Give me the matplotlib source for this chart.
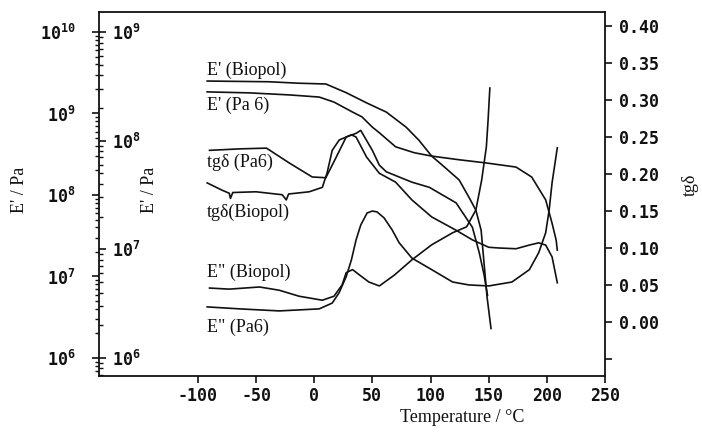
import matplotlib
matplotlib.use("Agg")
import numpy as np
import matplotlib.pyplot as plt
from matplotlib.ticker import LogLocator, NullFormatter

# storage modulus E' (Pa) vs temperature (degC)
t_e1_biopol = [-92, -39, -13, 10, 27.5, 45, 62, 79, 90, 101, 110, 124.6, 133, 139, 143.5, 146, 148.6, 152]
e1_biopol = [2.5e9, 2.45e9, 2.35e9, 2.3e9, 1.8e9, 1.35e9, 1.04e9, 6.8e8, 4.7e8, 3.0e8, 2.33e8, 1.53e8,
             9.4e7, 6.5e7, 3.7e7, 1.47e7, 5.6e6, 2.3e6]

t_e1_pa6 = [-92, -56, -21.5, 4.3, 17, 33, 41, 50, 56, 70, 86, 101, 125, 148, 173.5, 187, 199, 204.5, 208, 209]
e1_pa6 = [1.84e9, 1.79e9, 1.69e9, 1.59e9, 1.38e9, 1.04e9, 9.1e8, 6.8e8, 5.8e8, 3.9e8, 3.3e8, 3.0e8,
          2.7e8, 2.47e8, 2.2e8, 1.66e8, 8.7e7, 4.5e7, 2.8e7, 2.1e7]

# loss factor tg delta
t_tg_pa6 = [-90, -64, -41, -21.5, -1.7, 10, 19, 27.5, 32, 36, 45, 56, 70, 84, 101, 122, 136, 150, 159,
            173.5, 185, 193, 199, 204.5, 209]
tg_pa6 = [0.232, 0.234, 0.235, 0.215, 0.196, 0.195, 0.223, 0.250, 0.253, 0.250, 0.223, 0.201, 0.189,
          0.165, 0.142, 0.124, 0.111, 0.101, 0.100, 0.099, 0.104, 0.107, 0.104, 0.088, 0.053]

t_tg_biopol = [-92, -79, -73, -72, -70, -50, -27.5, -24, -22, -4.3, 7, 11, 15.5, 21.5, 27.5, 36, 40, 50,
               56, 62, 84, 99, 122, 136, 142, 146, 149]
tg_biopol = [0.188, 0.178, 0.174, 0.167, 0.175, 0.176, 0.172, 0.165, 0.173, 0.176, 0.182, 0.201, 0.232,
             0.246, 0.250, 0.255, 0.259, 0.232, 0.212, 0.203, 0.189, 0.182, 0.161, 0.128, 0.093, 0.064, 0.036]

# loss modulus E'' (Pa)
t_e2_biopol = [-90, -73, -47, -30, -13, 7, 17, 24, 27.5, 33, 39, 47, 56, 69, 84, 101, 119, 131, 139,
               144, 148, 149.5, 151]
e2_biopol = [4.4e6, 4.3e6, 4.5e6, 4.2e6, 3.7e6, 3.4e6, 3.7e6, 4.7e6, 6.1e6, 6.5e6, 5.8e6, 5.0e6, 4.6e6,
             5.8e6, 8.0e6, 1.1e7, 1.42e7, 1.61e7, 2.3e7, 4.35e7, 8.75e7, 1.55e8, 3.05e8]

t_e2_pa6 = [-92, -64, -30, 4.3, 15.5, 21.5, 27.5, 32, 36, 40, 45.5, 50, 54, 60, 67, 73, 84, 101, 119,
            133, 150, 170, 185, 193, 199, 202, 204.5, 209]
e2_pa6 = [2.95e6, 2.83e6, 2.71e6, 2.83e6, 3.2e6, 4.0e6, 5.6e6, 8.0e6, 1.22e7, 1.67e7, 2.16e7, 2.25e7,
          2.21e7, 1.95e7, 1.51e7, 1.15e7, 8.3e6, 6.5e6, 5.0e6, 4.7e6, 4.6e6, 5.0e6, 6.5e6, 9.3e6,
          1.42e7, 2.3e7, 4.1e7, 8.6e7]

x_ticks = [-100, -50, 0, 50, 100, 150, 200, 250]
outer_ticks = [1e6, 1e7, 1e8, 1e9, 1e10]
outer_labels = [r"$10^{6}$", r"$10^{7}$", r"$10^{8}$", r"$10^{9}$", r"$10^{10}$"]
inner_ticks = [1e6, 1e7, 1e8, 1e9]
inner_labels = [r"$10^{6}$", r"$10^{7}$", r"$10^{8}$", r"$10^{9}$"]
tg_ticks = [-0.05, 0.0, 0.05, 0.10, 0.15, 0.20, 0.25, 0.30, 0.35, 0.40]
tg_labels = ["", "0.00", "0.05", "0.10", "0.15", "0.20", "0.25", "0.30", "0.35", "0.40"]

plt.rcParams["mathtext.fontset"] = "custom"
plt.rcParams["mathtext.rm"] = "DejaVu Sans Mono:bold"
plt.rcParams["mathtext.it"] = "DejaVu Sans Mono:bold"
plt.rcParams["mathtext.bf"] = "DejaVu Sans Mono:bold"
plt.rcParams["axes.unicode_minus"] = False

W, H = 702, 432
INK = "#111111"
SERIF = "Liberation Serif"
TICKFONT = dict(family="DejaVu Sans Mono", weight="bold", size=12)


def px(x, y):
    return x / W, 1 - y / H


fig = plt.figure(figsize=(W / 100, H / 100), dpi=100)
left, right, top, bottom = 99, 605, 12, 376
rect = [left / W, 1 - bottom / H, (right - left) / W, (bottom - top) / H]

ax = fig.add_axes(rect)
ax_in = fig.add_axes(rect, sharex=ax, frameon=False)
ax_tg = fig.add_axes(rect, sharex=ax, frameon=False)
for a in (ax_in, ax_tg):
    a.patch.set_alpha(0)
    a.tick_params(axis="x", which="both", bottom=False, labelbottom=False)

for s in ax.spines.values():
    s.set_linewidth(1.3)
    s.set_color(INK)

ax.set_xlim(-185, 250)
ax.set_xticks(x_ticks, labels=[str(v) for v in x_ticks])
ax.tick_params(axis="x", direction="out", length=5, width=1.2, pad=3, colors=INK)

# outer log axis (E')
ax.set_yscale("log")
ax.set_ylim(10 ** 5.779, 10 ** 10.245)
ax.set_yticks(outer_ticks, labels=outer_labels)
ax.yaxis.set_minor_locator(LogLocator(base=10, subs=np.arange(2, 10), numticks=20))
ax.yaxis.set_minor_formatter(NullFormatter())
ax.tick_params(axis="y", which="major", direction="out", length=5, width=1.2, pad=12, colors=INK)
ax.tick_params(axis="y", which="minor", direction="out", length=3, width=1.0, colors=INK)
ax.tick_params(right=False, top=False)

# inner log axis (E'')
ax_in.set_yscale("log")
ax_in.set_ylim(10 ** 5.834, 10 ** 9.184)
ax_in.yaxis.tick_left()
ax_in.set_yticks(inner_ticks, labels=inner_labels)
ax_in.yaxis.set_minor_locator(LogLocator(base=10, subs=np.arange(2, 10), numticks=20))
ax_in.yaxis.set_minor_formatter(NullFormatter())
ax_in.tick_params(axis="y", which="major", direction="in", length=5, width=1.2, pad=-9, colors=INK)
ax_in.tick_params(axis="y", which="minor", direction="in", length=3, width=1.0, colors=INK)
for lbl in ax_in.get_yticklabels():
    lbl.set_horizontalalignment("left")

# right axis (tg delta)
ax_tg.set_ylim(-0.073, 0.419)
ax_tg.yaxis.tick_right()
ax_tg.set_yticks(tg_ticks, labels=tg_labels)
ax_tg.tick_params(axis="y", direction="out", length=5, width=1.2, pad=5, colors=INK)

for a in (ax, ax_in, ax_tg):
    for lbl in a.get_xticklabels() + a.get_yticklabels():
        lbl.set_fontproperties(matplotlib.font_manager.FontProperties(**TICKFONT))

lw = 1.2
ax.plot(t_e1_biopol, e1_biopol, color=INK, lw=lw)
ax.plot(t_e1_pa6, e1_pa6, color=INK, lw=lw)
ax_in.plot(t_e2_biopol, e2_biopol, color=INK, lw=lw)
ax_in.plot(t_e2_pa6, e2_pa6, color=INK, lw=lw)
ax_tg.plot(t_tg_pa6, tg_pa6, color=INK, lw=lw)
ax_tg.plot(t_tg_biopol, tg_biopol, color=INK, lw=lw)

lab = dict(family=SERIF, size=13, color=INK, va="center", ha="left")
fig.text(*px(207, 70), "E' (Biopol)", **lab)
fig.text(*px(207, 105), "E' (Pa 6)", **lab)
fig.text(*px(207, 162), "tg\u03b4 (Pa6)", **lab)
fig.text(*px(207, 212), "tg\u03b4(Biopol)", **lab)
fig.text(*px(207, 272), 'E" (Biopol)', **lab)
fig.text(*px(207, 327), 'E" (Pa6)', **lab)

axl = dict(family=SERIF, size=13, color=INK, va="center", ha="center")
fig.text(*px(20, 190), "E' / Pa", rotation=90, **axl)
fig.text(*px(150, 190), "E' / Pa", rotation=90, **axl)
fig.text(*px(690, 185), "tg\u03b4", rotation=90, **axl)
fig.text(*px(462, 418), "Temperature / \u00b0C", **axl)

fig.savefig("out.png", dpi=100)
